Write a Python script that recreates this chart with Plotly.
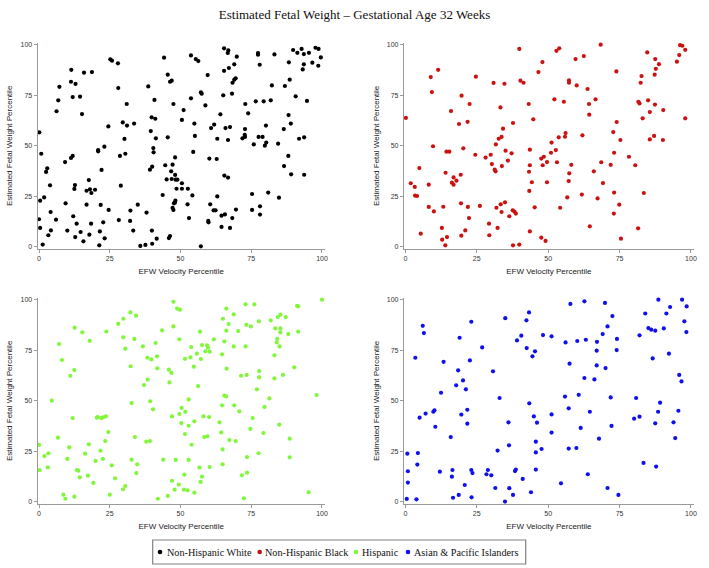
import plotly.graph_objects as go

# ---------------- data (percentiles) ----------------
groups = ["Non-Hispanic White", "Non-Hispanic Black", "Hispanic", "Asian & Pacific Islanders"]
colors = ["#000000", "#CC1111", "#80F73A", "#1010EE"]

white_pts = [
    (0.1,56.7),(0.8,46.1),(0.4,22.9),(0.0,13.7),(0.4,9.4),(1.3,1.2),(1.8,24.5),(2.5,37.1),(2.9,38.9),(3.9,30.5),
    (4.1,17.3),(4.2,8.2),(3.3,5.8),(6.0,13.5),(6.2,67.1),(6.8,72.5),(7.2,79.2),(9.2,42.0),(9.4,21.6),(10.0,8.1),
    (11.4,87.6),(11.3,81.7),(11.9,74.1),(11.3,44.0),(11.9,45.0),(12.1,15.2),(12.5,28.7),(12.7,30.6),(12.8,4.9),(13.3,11.5),
    (12.9,80.6),(14.5,74.3),(14.7,7.4),(15.2,65.7),(15.7,2.8),(15.9,86.2),(16.8,27.8),(16.8,20.9),(17.6,33.1),(17.8,6.1),
    (18.0,28.5),(18.5,26.7),(18.4,11.5),(18.7,86.5),(19.8,28.3),(20.9,47.3),(20.9,47.9),(21.3,0.8),(21.5,7.7),(21.8,20.8),
    (22.1,38.1),(22.7,12.2),(23.1,49.6),(23.2,4.3),(24.5,59.6),(24.6,18.3),(25.2,92.8),(25.8,92.1),(27.9,90.8),(28.0,78.6),
    (28.2,13.3),(28.6,45.0),(28.9,30.3),(29.6,61.6),(30.2,53.4),(30.5,46.1),(31.0,70.7),(31.1,60.0),(32.3,18.0),(32.2,12.9),
    (33.3,8.1),(33.6,61.0),(34.9,20.9),(35.8,0.5),(37.6,1.0),(38.0,17.0),(38.6,79.4),(39.2,38.2),(39.5,57.3),(39.8,64.1),
    (40.0,39.7),(39.9,8.1),(40.0,1.6),(40.4,48.9),(40.5,46.8),(40.8,72.7),(41.1,63.4),(41.3,53.7),(41.6,4.1),(43.7,25.7),
    (44.2,93.6),(44.6,40.4),(45.1,33.4),(45.5,54.2),(45.5,85.2),(45.9,4.4),(46.3,81.7),(46.3,5.4),(46.9,82.2),(47.2,40.7),
    (46.7,37.4),(46.9,33.6),(47.5,70.7),(47.5,18.3),(47.2,19.3),(47.7,21.6),(48.1,44.3),(48.1,35.6),(48.3,33.3),(48.6,28.8),
    (48.0,21.9),(48.2,22.9),(48.9,33.3),
    (53.7,94.7),(55.4,92.9),(56.3,91.9),(59.6,85.0),(57.2,76.4),(57.5,75.8),(53.7,73.5),(58.8,70.0),(51.1,67.7),(50.5,62.8),
    (54.9,61.0),(55.1,54.9),(54.5,47.0),(60.2,43.7),(62.8,43.5),(50.5,31.5),(50.5,28.8),(52.6,28.8),(54.2,25.5),(52.5,21.1),
    (53.0,14.3),(59.8,12.9),(59.9,12.2),(60.5,21.1),(61.7,18.1),(62.4,18.1),(63.0,25.0),(64.5,15.5),(65.7,16.1),(64.5,9.9),
    (67.5,9.4),(68.3,14.3),(69.6,18.5),(65.5,35.3),(66.8,34.3),(57.2,0.3),(60.8,58.8),(61.9,60.5),(63.0,53.5),(64.1,65.6),
    (65.9,58.8),(67.5,59.3),(66.8,52.9),(65.1,75.0),(68.2,75.8),(68.4,81.2),(69.0,82.7),(69.5,83.4),(65.4,87.1),(67.1,88.5),
    (69.0,90.3),(69.9,94.1),(66.7,95.9),(66.9,97.2),(65.4,98.2),(71.9,53.7),(72.8,54.4),(72.8,58.3),(72.9,70.7),(73.9,66.1),
    (72.7,55.5),(75.9,50.7),(76.6,72.0),(77.6,54.4),(79.0,54.4),(79.4,72.0),(80.2,60.0),(80.3,51.6),(79.8,50.1),(77.4,95.1),
    (77.4,95.9),(78.0,90.1),(75.3,26.2),(75.3,18.3),(78.1,20.1),(78.1,16.0),(81.0,26.9),(81.9,72.5),(82.3,79.9),(83.2,95.2),
    (84.5,51.1),(84.8,24.4),(86.5,58.3),(86.9,79.6),(88.6,82.7),(88.2,65.2),(89.0,61.0),(88.1,45.0),(86.6,40.0),(89.1,35.9),
    (93.7,35.7),(91.9,53.5),(93.7,54.2),(90.7,74.5),(94.7,72.2),(88.3,91.3),(89.8,97.4),(91.3,96.0),(92.8,97.9),(93.6,95.4),
    (95.4,96.0),(93.2,87.8),(93.6,90.3),(96.6,91.1),(97.7,98.5),(98.8,97.9),(99.6,93.7),(98.7,89.6),
]

black_pts = [
    (0.2,63.8),(1.9,31.5),(3.3,29.7),(3.4,25.4),(4.1,25.2),(4.9,39.0),(5.4,6.6),(8.2,30.8),(8.2,19.8),(8.9,84.0),
    (9.3,76.6),(9.7,49.8),(10.0,17.6),(11.5,87.6),(12.8,9.4),(12.9,3.6),(13.3,19.9),(14.0,0.8),(14.6,4.9),(14.1,36.7),
    (14.4,47.1),(15.4,47.1),(16.0,67.2),(16.3,31.8),(16.9,34.4),(16.9,30.8),(17.9,32.8),(18.8,60.8),(19.4,35.7),(19.5,21.6),
    (19.6,5.6),(19.7,74.8),(20.3,48.8),(21.0,8.2),(21.8,61.9),(21.9,19.8),(22.3,14.3),(22.5,70.7),(24.5,45.6),(24.7,84.2),
    (26.1,20.3),(28.1,44.2),(29.3,11.5),(29.4,5.8),(29.9,45.6),(30.3,41.0),(30.9,81.1),(31.3,38.2),(31.6,37.4),(31.7,50.7),
    (31.9,19.4),(32.3,9.4),(32.7,53.5),(33.3,69.0),(33.4,21.1),(33.7,54.4),(33.7,17.3),(33.8,40.0),(34.2,58.5),(34.7,80.7),
    (34.9,22.1),(35.1,47.6),(35.9,42.7),(36.4,15.2),(37.2,46.3),(37.7,61.3),(37.6,18.1),(37.7,0.8),(38.2,17.5),(38.7,16.5),
    (39.9,97.9),(39.9,1.2),(40.3,82.2),(41.4,81.2),(43.2,70.7),(43.3,37.2),(43.4,27.7),(43.6,40.4),(43.6,48.1),(43.6,7.7),
    (44.3,32.0),(44.8,63.1),(45.3,19.6),(46.6,86.5),(47.6,4.6),(47.6,43.7),(48.1,40.4),(48.0,91.4),(48.5,44.6),(49.1,3.0),
    (49.6,42.0),(49.6,32.0),
    (52.9,97.0),(53.9,98.2),(59.6,92.9),(62.5,94.4),(68.4,100.0),(73.9,86.8),(57.3,82.4),(57.3,81.2),(60.0,79.9),(63.8,78.1),
    (52.2,73.0),(55.5,71.8),(66.6,73.0),(64.3,70.7),(64.4,65.4),(74.0,61.8),(72.8,56.8),(75.3,52.9),(56.1,56.3),(55.9,54.5),
    (53.7,54.2),(62.0,55.2),(51.2,51.6),(51.0,46.6),(52.7,47.9),(73.1,46.6),(78.3,44.6),(53.1,41.9),(58.1,40.6),(68.6,41.9),
    (71.9,40.6),(80.5,40.4),(66.0,37.4),(57.4,36.4),(57.2,32.6),(69.2,31.6),(73.1,26.9),(83.5,26.7),(61.8,25.9),(56.7,24.5),
    (67.3,24.0),(74.9,20.9),(54.2,19.4),(73.0,16.5),(64.6,10.2),(81.5,9.2),(75.5,4.1),(84.7,96.2),(87.5,92.9),(88.8,90.4),
    (87.7,88.1),(87.3,85.2),(82.7,84.5),(82.4,81.2),(81.6,71.8),(82.0,71.0),(85.0,72.5),(87.4,70.4),(85.6,66.7),(90.3,67.7),
    (83.1,63.6),(85.6,53.2),(87.1,54.9),(90.2,52.9),(95.1,91.6),(95.9,94.9),(96.2,99.8),(97.0,99.5),(98.0,97.5),(98.0,63.6),
]

hispanic_pts = [
    (0.0,28.2),(0.2,15.7),(1.9,22.7),(3.3,24.1),(3.1,17.1),(4.5,50.1),(6.7,31.8),(7.1,78.1),(8.1,70.2),(8.6,3.6),
    (9.3,1.6),(10.0,21.3),(10.7,27.0),(11.1,62.4),(11.9,41.5),(12.5,65.2),(12.6,86.2),(12.5,2.6),(13.4,15.8),(13.9,15.5),
    (14.4,12.2),(15.3,83.9),(16.3,23.9),(17.3,13.0),(17.6,28.5),(17.9,79.7),(19.2,9.4),(20.0,20.3),(20.4,41.7),(20.8,42.0),
    (21.7,25.4),(22.0,41.5),(22.6,41.8),(22.6,21.3),(23.6,42.3),(23.4,30.1),(23.8,84.3),(24.5,34.6),(25.0,3.6),(25.7,18.1),
    (26.9,11.7),(28.0,88.1),(29.7,6.3),(29.8,90.6),(29.8,81.4),(30.5,7.9),(30.5,75.8),(32.3,93.7),(32.4,67.1),(32.7,48.9),
    (32.7,20.9),(33.7,80.6),(33.9,32.1),(34.3,92.1),(34.4,14.3),(34.7,18.6),(36.7,76.9),(37.1,57.8),(37.9,29.8),(38.3,71.3),
    (38.4,60.5),(39.2,30.1),(39.3,49.8),(39.7,70.5),(40.3,45.8),(41.2,78.6),(41.7,72.0),(41.8,66.1),(42.0,1.6),(43.5,84.8),
    (43.9,20.9),(45.5,3.0),(45.9,65.4),(46.1,59.1),(46.8,63.8),(47.0,42.3),(47.0,10.5),(47.5,99.0),(47.5,86.8),(47.9,6.1),
    (48.3,20.8),(48.8,95.6),(49.4,8.6),(49.6,43.5),(49.6,80.4),(49.8,95.1),
    (56.9,84.2),(53.8,76.6),(57.6,77.6),(59.4,77.4),(59.7,76.3),(58.8,74.5),(60.3,74.3),(55.8,73.3),(51.6,70.8),(53.5,71.5),
    (57.2,70.7),(54.7,66.9),(61.8,80.4),(56.2,57.3),(52.9,50.7),(50.4,46.5),(51.7,44.6),(50.3,39.0),(52.9,37.7),(54.9,39.9),
    (58.1,42.3),(60.1,42.0),(51.6,33.6),(58.4,32.1),(59.5,32.5),(53.9,28.3),(52.9,20.8),(56.7,17.0),(60.3,17.3),(51.4,13.5),
    (57.6,12.5),(57.1,9.9),(51.2,6.1),(52.5,5.8),(54.9,4.6),(65.0,90.6),(66.2,95.6),(68.8,92.8),(67.0,88.0),(66.2,84.7),
    (70.4,84.5),(73.0,97.7),(76.1,97.7),(73.3,87.6),(74.9,86.8),(77.7,89.3),(65.5,79.4),(68.8,76.9),(73.0,76.9),(64.7,73.0),
    (66.3,65.9),(71.4,62.4),(73.4,62.8),(77.8,64.7),(77.8,61.6),(77.0,55.7),(65.5,52.6),(66.1,52.2),(64.7,47.8),(69.0,47.8),
    (70.8,44.8),(75.5,41.5),(63.8,39.4),(64.4,34.4),(67.3,30.6),(69.5,30.1),(74.7,36.1),(79.3,34.1),(64.9,26.0),(73.5,22.2),
    (77.6,24.1),(64.9,18.6),(71.7,13.2),(73.5,14.5),(72.4,1.8),(81.9,89.8),(84.4,91.4),(85.3,92.6),(87.2,91.4),(83.5,85.8),
    (85.3,85.8),(85.3,83.9),(84.2,80.7),(84.0,78.9),(85.0,76.9),(83.2,72.5),(88.1,83.0),(91.2,97.0),(91.6,96.7),(91.6,84.2),
    (100.0,100.0),(90.2,66.6),(86.2,62.8),(83.2,61.1),(81.4,51.2),(79.7,47.0),(84.9,38.2),(88.6,31.3),(88.6,22.1),(98.1,52.9),
    (95.3,4.8),
]

asian_pts = [
    (0.5,1.5),(0.7,23.9),(0.9,15.2),(0.9,9.6),(3.5,71.3),(3.9,1.3),(4.2,18.5),(4.4,24.2),(5.0,41.7),(6.1,87.1),
    (6.5,83.5),(7.1,43.7),(9.8,44.6),(10.2,45.3),(10.5,37.2),(12.1,15.0),(12.5,54.0),(13.4,69.3),(15.9,32.1),(16.3,12.5),
    (16.5,15.8),(16.7,2.1),(17.8,57.7),(18.5,65.1),(18.7,3.5),(19.0,81.2),(19.6,43.2),(20.2,60.1),(20.8,8.4),(21.2,55.7),
    (21.7,45.6),(21.7,38.7),(22.6,70.0),(23.1,89.1),(23.1,15.8),(23.5,14.3),(23.2,2.3),(26.9,76.4),(28.4,13.7),(28.9,15.8),
    (30.1,13.2),(30.7,64.6),(31.5,6.9),(32.3,25.4),(33.0,51.4),(34.9,0.2),(35.0,90.9),(36.1,39.4),(36.3,28.0),(36.4,6.8),
    (37.7,3.5),(38.4,15.3),(38.7,16.0),(39.1,79.9),(40.6,82.2),(41.1,11.4),(42.4,89.8),(42.5,76.1),(43.3,93.7),(43.4,48.8),
    (44.0,4.8),(44.5,72.0),(45.0,42.3),(45.4,74.5),(45.7,29.8),(45.7,24.5),(45.7,16.0),(46.1,39.2),(47.7,26.2),(48.2,82.5),
    (51.2,81.9),(57.8,97.9),(62.7,99.2),(69.9,98.4),(72.5,91.9),(70.8,86.8),(69.1,83.0),(74.1,80.6),(56.1,78.9),(60.2,79.6),
    (63.2,80.2),(67.1,79.2),(67.0,74.8),(74.0,75.1),(57.5,68.4),(67.0,67.5),(70.1,66.2),(62.7,61.3),(66.2,60.6),(55.9,52.1),
    (60.7,53.0),(71.9,51.7),(57.2,46.3),(64.6,44.6),(51.2,43.3),(51.2,34.3),(61.4,36.6),(72.2,37.6),(67.8,31.3),(57.2,26.4),
    (59.9,26.7),(63.9,13.7),(54.5,9.2),(70.8,6.9),(74.6,3.5),(88.6,100.0),(96.9,100.0),(92.7,96.4),(98.5,96.7),(84.0,93.2),
    (91.4,93.2),(97.7,89.3),(85.1,86.0),(86.1,85.2),(87.5,84.7),(90.5,85.8),(98.4,84.0),(82.0,82.4),(92.3,73.3),(86.6,71.0),
    (95.9,62.8),(96.7,59.6),(80.8,51.4),(89.2,49.1),(88.5,44.6),(95.6,45.1),(80.1,41.2),(82.0,42.2),(87.5,38.9),(93.9,39.4),
    (94.5,31.6),(83.4,19.3),(87.8,17.5),
]

tick_vals = [0, 25, 50, 75, 100]
x_title = "EFW Velocity Percentile"
y_title = "Estimated Fetal Weight Percentile"
chart_title = "Estimated Fetal Weight \u2013 Gestational Age 32 Weeks"

# ---------------- figure ----------------
W, H = 709, 568
all_pts = [white_pts, black_pts, hispanic_pts, asian_pts]

fig = go.Figure()
for i, (name, col, pts) in enumerate(zip(groups, colors, all_pts)):
    xs = [p[0] for p in pts]
    ys = [p[1] for p in pts]
    sfx = "" if i == 0 else str(i + 1)
    fig.add_trace(go.Scatter(
        x=xs, y=ys, mode="markers", name=name, showlegend=False,
        marker=dict(color=col, size=4.2, line=dict(width=0)),
        xaxis="x" + sfx, yaxis="y" + sfx, cliponaxis=False,
    ))

# pixel domains
xdoms = [(37.6, 324.8), (403.9, 693.8)]
ydoms = [(42.7, 249.0), (297.7, 504.0)]

def xd(a, b):
    return [a / W, b / W]

def yd(a, b):
    return [1 - b / H, 1 - a / H]

axis_font = dict(family="Liberation Sans, Arial, sans-serif", size=7, color="#333333")
title_font = dict(family="Liberation Sans, Arial, sans-serif", size=8, color="#222222")

layout = dict(
    width=W, height=H,
    margin=dict(l=0, r=0, t=0, b=0, autoexpand=False),
    paper_bgcolor="white", plot_bgcolor="white",
    title=dict(text=chart_title, x=0.5, xanchor="center", y=1 - 14 / H, yanchor="middle",
               font=dict(family="Liberation Serif, Times New Roman, serif", size=13, color="#111111")),
    showlegend=False,
)

for i in range(4):
    col = i % 2
    row = i // 2
    sfx = "" if i == 0 else str(i + 1)
    layout["xaxis" + sfx] = dict(
        domain=xd(*xdoms[col]), range=[-0.5, 101], anchor="y" + sfx,
        tickmode="array", tickvals=tick_vals, ticks="outside", ticklen=3,
        tickcolor="#9a9a9a", showline=True, linecolor="#9a9a9a", linewidth=1,
        showgrid=False, zeroline=False, tickfont=axis_font,
        title=dict(text=x_title, font=title_font, standoff=6),
    )
    layout["yaxis" + sfx] = dict(
        domain=yd(*ydoms[row]), range=[-1, 101], anchor="x" + sfx,
        tickmode="array", tickvals=tick_vals, ticks="outside", ticklen=3,
        tickcolor="#9a9a9a", showline=True, linecolor="#9a9a9a", linewidth=1,
        showgrid=False, zeroline=False, tickfont=axis_font,
        title=dict(text=y_title, font=title_font, standoff=6),
    )

fig.update_layout(**layout)

# ---------------- legend (boxed, horizontal, compact) ----------------
leg_box = (152.7, 540.0, 525.7, 564.0)
leg_dot_x = [160.0, 259.7, 356.0, 408.0]
leg_text_x = [165.5, 264.3, 361.2, 413.0]
leg_y = 552.0

fig.add_shape(type="rect", xref="paper", yref="paper",
              x0=leg_box[0] / W, x1=leg_box[2] / W,
              y0=1 - leg_box[3] / H, y1=1 - leg_box[1] / H,
              line=dict(color="#808080", width=1.2), fillcolor="rgba(0,0,0,0)")
for name, col, dx, tx in zip(groups, colors, leg_dot_x, leg_text_x):
    fig.add_shape(type="circle", xref="paper", yref="paper",
                  xsizemode="pixel", ysizemode="pixel",
                  xanchor=dx / W, yanchor=1 - leg_y / H,
                  x0=-2.3, x1=2.3, y0=-2.3, y1=2.3,
                  fillcolor=col, line=dict(width=0))
    fig.add_annotation(text=name, xref="paper", yref="paper",
                       x=tx / W, y=1 - leg_y / H, xanchor="left", yanchor="middle",
                       showarrow=False, borderpad=0,
                       font=dict(family="Liberation Serif, Times New Roman, serif", size=10.2, color="#111111"))

fig.write_html("out.html", config={"displayModeBar": False},
               post_script="document.body.style.margin='0';")
